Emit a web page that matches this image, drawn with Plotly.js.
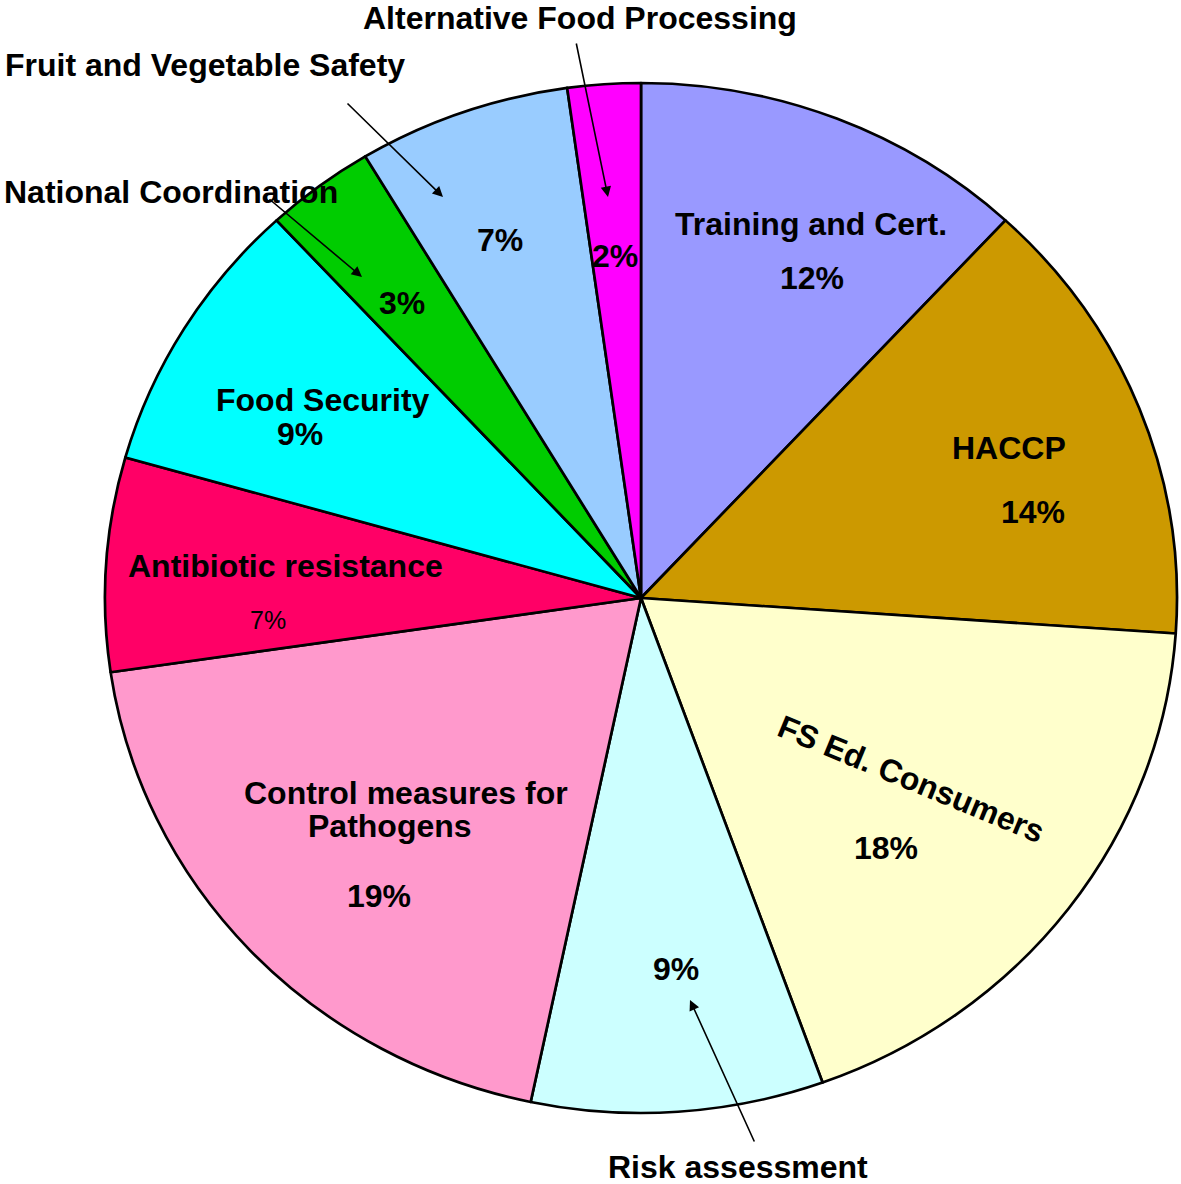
<!DOCTYPE html>
<html>
<head>
<meta charset="utf-8">
<script src="https://cdn.plot.ly/plotly-3.0.1.min.js"></script>
<style>html,body{margin:0;padding:0;background:#fff;}#chart{width:1181px;height:1184px;}</style>
</head>
<body>
<div id="chart"></div>
<script>
// ---- data ----
const categories = ['Training and Cert.', 'HACCP', 'FS Ed. Consumers', 'Risk assessment',
  'Control measures for Pathogens', 'Antibiotic resistance', 'Food Security',
  'National Coordination', 'Fruit and Vegetable Safety', 'Alternative Food Processing'];
const shares = [11.9, 14.2, 18.4, 8.8, 19.4, 6.7, 8.7, 3.3, 6.4, 2.2];
const pctLabels = ['12%', '14%', '18%', '9%', '19%', '7%', '9%', '3%', '7%', '2%'];
const sliceColors = ['#9999FF', '#CC9900', '#FFFFCC', '#CCFFFF', '#FF99CC',
  '#FF0066', '#00FFFF', '#00CC00', '#99CCFF', '#FF00FF'];

// ---- layout helpers ----
const W = 1181, H = 1184;
const px = (x) => x / W;
const py = (y) => 1 - y / H;
const FONT = 'Liberation Sans, Arial, sans-serif';

function textAnn(text, x, y, opts) {
  opts = opts || {};
  return {
    text: opts.bold === false ? text : '<b>' + text + '</b>',
    x: px(x), y: py(y), xref: 'paper', yref: 'paper',
    xanchor: 'center', yanchor: 'middle', showarrow: false,
    textangle: opts.angle || 0, borderpad: 0,
    font: {family: FONT, size: opts.size || 32, color: '#000'}
  };
}
function arrowAnn(tailX, tailY, headX, headY) {
  return {
    text: '', x: px(headX), y: py(headY), xref: 'paper', yref: 'paper',
    ax: tailX - headX, ay: tailY - headY, axref: 'pixel', ayref: 'pixel',
    showarrow: true, arrowhead: 2, arrowsize: 1.3, arrowwidth: 1.6,
    arrowcolor: '#000', standoff: 0, startstandoff: 0
  };
}

const ann = [];
// Training and Cert.
ann.push(textAnn(categories[0], 811, 224));
ann.push(textAnn(pctLabels[0], 812, 278));
// HACCP
ann.push(textAnn(categories[1], 1009, 448));
ann.push(textAnn(pctLabels[1], 1033, 512));
// FS Ed. Consumers
ann.push(textAnn(categories[2], 911, 779, {angle: 22.4}));
ann.push(textAnn(pctLabels[2], 886, 848));
// Risk assessment
ann.push(textAnn(pctLabels[3], 676, 969));
ann.push(textAnn(categories[3], 738, 1167));
ann.push(arrowAnn(755, 1143, 690, 1000));
// Control measures for Pathogens
ann.push(textAnn('Control measures for', 406, 793));
ann.push(textAnn('Pathogens', 390, 826));
ann.push(textAnn(pctLabels[4], 379, 896));
// Antibiotic resistance
ann.push(textAnn(categories[5], 285, 566));
ann.push(textAnn(pctLabels[5], 268, 620, {bold: false, size: 25}));
// Food Security
ann.push(textAnn(categories[6], 323, 400));
ann.push(textAnn(pctLabels[6], 300, 434));
// National Coordination
ann.push(textAnn(categories[7], 171, 192));
ann.push(textAnn(pctLabels[7], 402, 303));
ann.push(arrowAnn(268, 198, 362, 277));
// Fruit and Vegetable Safety
ann.push(textAnn(categories[8], 205, 65));
ann.push(textAnn(pctLabels[8], 500, 240));
ann.push(arrowAnn(346, 102, 443, 197));
// Alternative Food Processing
ann.push(textAnn(categories[9], 580, 18));
ann.push(textAnn(pctLabels[9], 615, 256));
ann.push(arrowAnn(576, 42, 608, 197));

// pie geometry: centre (641, 598), vertical radius 515 px, horizontal 536 px
const cx = 641, cy = 598, r = 515, rx = 536;

const trace = {
  type: 'pie',
  labels: categories,
  values: shares,
  sort: false,
  direction: 'clockwise',
  rotation: 0,
  marker: {colors: sliceColors, line: {color: '#000', width: 2.6}},
  textinfo: 'none',
  hoverinfo: 'label+percent',
  showlegend: false,
  domain: {x: [px(cx - r), px(cx + r)], y: [py(cy + r), py(cy - r)]}
};

const layout = {
  width: W, height: H,
  margin: {l: 0, r: 0, t: 0, b: 0},
  paper_bgcolor: '#fff',
  showlegend: false,
  annotations: ann,
  font: {family: FONT}
};

Plotly.newPlot('chart', [trace], layout, {displayModeBar: false, staticPlot: true}).then(function () {
  // the reference pie is slightly wider than tall: stretch the pie horizontally
  const sx = rx / r;
  document.querySelectorAll('.pielayer .trace').forEach(function (g) {
    g.setAttribute('transform', 'translate(' + cx + ',0) scale(' + sx + ',1) translate(' + (-cx) + ',0)');
  });
});
</script>
</body>
</html>
